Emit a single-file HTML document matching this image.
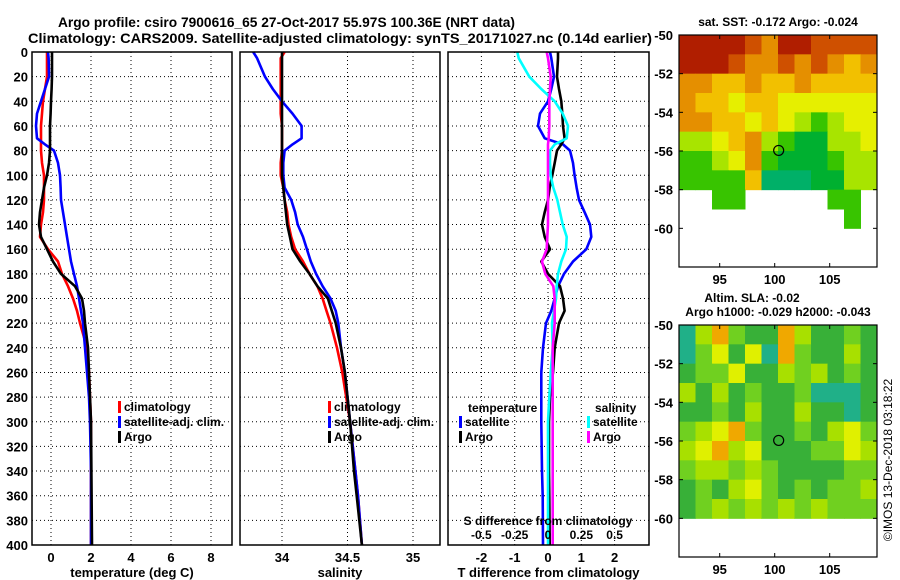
<!DOCTYPE html>
<html><head><meta charset="utf-8"><style>
html,body{margin:0;padding:0;background:#fff;}
svg{display:block;font-family:"Liberation Sans",sans-serif;font-weight:bold;}
</style></head><body>
<svg id="fig" width="900" height="580" viewBox="0 0 900 580" xmlns="http://www.w3.org/2000/svg">
<text x="58" y="27" font-size="14" textLength="457" lengthAdjust="spacingAndGlyphs">Argo profile: csiro 7900616_65 27-Oct-2017 55.97S 100.36E (NRT data)</text>
<text x="28" y="43" font-size="14" textLength="624" lengthAdjust="spacingAndGlyphs">Climatology: CARS2009. Satellite-adjusted climatology: synTS_20171027.nc (0.14d earlier)</text>
<text x="778" y="26" font-size="12" text-anchor="middle">sat. SST: -0.172 Argo: -0.024</text>
<text x="752" y="302" font-size="12" text-anchor="middle">Altim. SLA: -0.02</text>
<text x="778" y="316" font-size="12" text-anchor="middle">Argo h1000: -0.029 h2000: -0.043</text>
<text transform="translate(892,460) rotate(-90)" font-size="12" font-weight="normal" text-anchor="middle">©IMOS 13-Dec-2018 03:18:22</text>
<g id="plots"></g>
</svg>
<script>
const depths=[0,5,20,30,40,50,60,70,75,80,90,100,110,120,130,140,150,160,170,180,190,200,210,220,240,260,280,300,340,360,400];
// temperature (deg C)
const tClim=[-0.2,-0.2,-0.2,-0.3,-0.4,-0.45,-0.5,-0.5,-0.5,-0.5,-0.45,-0.35,-0.35,-0.35,-0.4,-0.5,-0.55,-0.15,0.35,0.55,0.85,1.1,1.3,1.45,1.8,1.9,1.95,2.0,2.0,2.0,2.0];
const tSat=[-0.15,-0.12,-0.1,-0.3,-0.5,-0.7,-0.75,-0.7,-0.3,0.15,0.35,0.45,0.48,0.5,0.6,0.7,0.8,0.9,1.0,1.15,1.3,1.4,1.5,1.6,1.7,1.8,1.9,1.95,2.0,2.0,2.0];
const tArgo=[0.05,0.05,0.05,0.03,0.0,-0.02,-0.05,-0.05,-0.05,-0.05,-0.1,-0.2,-0.35,-0.45,-0.55,-0.6,-0.5,-0.2,0.1,0.5,1.2,1.55,1.65,1.7,1.85,1.9,1.95,2.0,2.02,2.03,2.05];
// salinity
const sClim=[34.02,33.99,33.99,33.99,33.99,33.99,34.0,34.0,34.0,34.0,33.99,33.99,34.01,34.02,34.04,34.05,34.07,34.1,34.16,34.21,34.27,34.31,34.34,34.37,34.42,34.46,34.49,34.52,34.56,34.58,34.61];
const sSat=[33.78,33.81,33.87,33.93,34.0,34.08,34.15,34.15,34.08,34.02,34.01,34.01,34.02,34.07,34.1,34.12,34.16,34.19,34.22,34.26,34.31,34.37,34.41,34.43,34.45,34.48,34.5,34.52,34.56,34.58,34.61];
const sArgo=[34.0,34.0,34.0,34.0,34.0,34.0,34.0,34.0,34.0,34.0,34.0,34.0,34.01,34.02,34.03,34.04,34.06,34.08,34.14,34.21,34.27,34.35,34.38,34.41,34.45,34.48,34.5,34.52,34.55,34.57,34.61];
// differences from climatology
const dTSat=[0.06,0.1,0.18,0.1,0.0,-0.24,-0.3,-0.1,0.45,0.66,0.75,0.8,0.86,0.93,1.1,1.26,1.3,1.15,0.75,0.48,0.3,0.2,0.1,-0.06,-0.15,-0.2,-0.2,-0.2,-0.18,-0.16,-0.15];
const dTArgo=[0.3,0.3,0.27,0.33,0.4,0.43,0.45,0.5,0.4,0.27,0.2,0.13,0.05,0.0,-0.1,-0.18,-0.1,0.06,-0.2,0.0,0.36,0.45,0.5,0.33,0.2,0.15,0.06,0.03,0.03,0.04,0.05];
const dSArgo=[-0.01,0.0,0.02,0.015,0.01,0.01,0.01,0.005,0.0,0.0,0.0,0.0,0.0,0.0,0.0,0.0,-0.005,-0.01,-0.045,-0.02,0.04,0.05,0.05,0.05,0.035,0.035,0.035,0.035,0.035,0.035,0.035];
const dSSat=[-0.23,-0.22,-0.14,-0.05,0.05,0.11,0.15,0.14,0.05,0.015,0.015,0.02,0.04,0.07,0.09,0.11,0.14,0.135,0.1,0.075,0.065,0.06,0.045,0.03,0.035,0.02,0.01,0.0,0.0,0.0,0.0];
const depthTicks=[0,20,40,60,80,100,120,140,160,180,200,220,240,260,280,300,320,340,360,380,400];
const tTicks=[0,2,4,6,8];
const sTicks=[34,34.5,35];
const sTickLabels=["34","34.5","35"];
const dTicks=[-2,-1,0,1,2];
const dSTicks=[-0.5,-0.25,0,0.25,0.5];
const dSTickLabels=["-0.5","-0.25","0","0.25","0.5"];
// maps
const sstLatTicks=[-50,-52,-54,-56,-58,-60];
const slaLatTicks=[-50,-52,-54,-56,-58,-60];
const lonTicks=[95,100,105];
const sstPalette=["#b01e00","#cf5000","#e58f00","#f2c000","#e6ef00","#a8e400","#38c400","#00b030","#00b068"];
const sstGrid=[
[0,0,0,0,1,2,0,0,1,1,1,1],
[0,0,0,1,2,2,1,2,1,2,3,2],
[2,2,3,3,2,3,3,2,3,3,3,3],
[2,3,3,4,3,3,4,4,4,4,4,4],
[2,2,3,3,4,3,4,5,6,5,4,4],
[5,5,4,3,2,5,6,7,7,5,5,4],
[6,6,5,4,2,6,7,7,7,6,5,5],
[6,6,6,6,3,8,8,8,7,7,5,5],
[-1,-1,6,6,-1,-1,-1,-1,-1,6,6,-1],
[-1,-1,-1,-1,-1,-1,-1,-1,-1,-1,6,-1],
[-1,-1,-1,-1,-1,-1,-1,-1,-1,-1,-1,-1],
[-1,-1,-1,-1,-1,-1,-1,-1,-1,-1,-1,-1]];
const slaPalette=["#20b088","#38b038","#70d020","#a8e000","#e0f000","#f0a800"];
const slaGrid=[
[0,3,5,2,1,1,5,3,1,1,2,1],
[0,2,4,1,4,0,5,2,1,1,3,1],
[1,2,2,4,1,1,3,2,3,1,2,1],
[3,1,3,1,2,1,1,2,0,0,0,1],
[1,1,2,1,3,1,1,3,1,1,0,1],
[2,3,4,5,2,1,1,2,1,3,4,2],
[3,4,5,3,4,1,1,1,2,2,4,3],
[2,3,3,2,3,2,1,1,1,1,2,2],
[1,2,1,3,4,2,1,2,1,2,2,3],
[1,2,3,2,3,2,3,2,3,2,2,2]];
const argoLon=[100.36], argoLat=[-55.97];

const NS="http://www.w3.org/2000/svg";
const root=document.getElementById('plots');
function mk(tag,attrs,parent){const e=document.createElementNS(NS,tag);for(const k in attrs)e.setAttribute(k,attrs[k]);(parent||root).appendChild(e);return e;}
const yD=d=>52+d*(493/400);

function panel(name,x0,x1,xs,ticks,labels,title,series,showDepth){
  const g=mk('g',{});
  
  
  depthTicks.forEach(d=>{
    const l=mk('line',{x1:x0,x2:x1,y1:yD(d),y2:yD(d),stroke:'#000','stroke-width':1,'stroke-dasharray':'1,3'},g);
    
    
    if(showDepth){
      const t=mk('text',{x:x0-4,y:yD(d)+5,'font-size':13,'text-anchor':'end'},g);
      
      
      t.textContent=d;
    }
  });
  ticks.forEach((v,i)=>{
    const l=mk('line',{x1:xs(v),x2:xs(v),y1:52,y2:545,stroke:'#000','stroke-width':1,'stroke-dasharray':'1,3'},g);
    
    
    const t=mk('text',{x:xs(v),y:562,'font-size':13,'text-anchor':'middle'},g);
    
    
    t.textContent=labels[i];
  });
  const tt=mk('text',{x:(x0+x1)/2,y:577,'font-size':13,'text-anchor':'middle'},g);
  
  
  tt.textContent=title;
  series.forEach(s=>{
    const pts=s.vals.map((v,i)=>s.xs(v).toFixed(1)+','+yD(depths[i]).toFixed(1)).join(' ');
    const p=mk('polyline',{points:pts,fill:'none',stroke:s.color,'stroke-width':2.6,'stroke-linejoin':'round'},g);
    
    
  });
  const fr=mk('rect',{x:x0,y:52,width:x1-x0,height:493,fill:'none',stroke:'#000','stroke-width':1.5},g);
  
  
  return g;
}
function legend(g,x,y,items){
  items.forEach((it,i)=>{
    const r=mk('rect',{x:x,y:y+i*15-10,width:3,height:12,fill:it[1]},g);
    
    
    const t=mk('text',{x:x+6,y:y+i*15,'font-size':12},g);
    
    
    t.textContent=it[0];
  });
}
const xT=v=>51+20*v, xS=v=>282+131*(v-34), xDT=v=>548+33.3*v, xDS=v=>548+133.3*v;
const g1=panel('temperature-panel',32,232,xT,tTicks,tTicks.map(String),'temperature (deg C)',[
 {name:'temp-climatology-line',vals:tClim,xs:xT,color:'#ff0000'},
 {name:'temp-satellite-line',vals:tSat,xs:xT,color:'#0000ff'},
 {name:'temp-argo-line',vals:tArgo,xs:xT,color:'#000'}],true);
legend(g1,118,411,[['climatology','#ff0000'],['satellite-adj. clim.','#0000ff'],['Argo','#000']]);
const g2=panel('salinity-panel',240,440,xS,sTicks,sTickLabels,'salinity',[
 {name:'sal-climatology-line',vals:sClim,xs:xS,color:'#ff0000'},
 {name:'sal-satellite-line',vals:sSat,xs:xS,color:'#0000ff'},
 {name:'sal-argo-line',vals:sArgo,xs:xS,color:'#000'}],false);
legend(g2,328,411,[['climatology','#ff0000'],['satellite-adj. clim.','#0000ff'],['Argo','#000']]);
const g3=panel('difference-panel',448,649,xDT,dTicks,dTicks.map(String),'T difference from climatology',[
 {name:'tdiff-satellite-line',vals:dTSat,xs:xDT,color:'#0000ff'},
 {name:'tdiff-argo-line',vals:dTArgo,xs:xDT,color:'#000'},
 {name:'sdiff-satellite-line',vals:dSSat,xs:xDS,color:'#00ffff'},
 {name:'sdiff-argo-line',vals:dSArgo,xs:xDS,color:'#ff00ff'}],false);
{const t=mk('text',{x:468,y:412,'font-size':12},g3);t.textContent='temperature';}
{const t=mk('text',{x:595,y:412,'font-size':12},g3);t.textContent='salinity';}
legend(g3,459,426,[['satellite','#0000ff'],['Argo','#000']]);
legend(g3,587,426,[['satellite','#00ffff'],['Argo','#ff00ff']]);
{const t=mk('text',{x:548,y:525,'font-size':12,'text-anchor':'middle'},g3);t.textContent='S difference from climatology';}
dSTicks.forEach((v,i)=>{const t=mk('text',{x:xDS(v),y:539,'font-size':12,'text-anchor':'middle'},g3);
 
 
 t.textContent=dSTickLabels[i];});

function map(name,y0,y1,latMin,grid,palette,latTicks){
  const g=mk('g',{});
  
  
  const x0=679,x1=877;
  const yL=lat=>y0+(-50-lat)*(y1-y0)/(-50-latMin);
  const xL=lon=>679+(lon-91.3)*11;
  grid.forEach((row,r)=>row.forEach((v,c)=>{
    if(v<0)return;
    const lon0=91.3+c*1.5;
    const e=mk('rect',{x:xL(lon0),y:yL(-50-r),width:xL(lon0+1.5)-xL(lon0)+0.5,height:yL(-51-r)-yL(-50-r)+0.5,fill:palette[v]},g);
    
    
  }));
  latTicks.forEach(l=>{
    const t=mk('text',{x:673,y:yL(l)+5,'font-size':13,'text-anchor':'end'},g);
    
    
    t.textContent=l;
    mk('line',{x1:x0,x2:x0+4,y1:yL(l),y2:yL(l),stroke:'#000'},g);
    mk('line',{x1:x1-4,x2:x1,y1:yL(l),y2:yL(l),stroke:'#000'},g);
  });
  lonTicks.forEach(l=>{
    const t=mk('text',{x:xL(l),y:y1+17,'font-size':13,'text-anchor':'middle'},g);
    
    
    t.textContent=l;
    mk('line',{x1:xL(l),x2:xL(l),y1:y1-4,y2:y1,stroke:'#000'},g);
    mk('line',{x1:xL(l),x2:xL(l),y1:y0,y2:y0+4,stroke:'#000'},g);
  });
  const c=mk('circle',{cx:xL(argoLon[0]),cy:yL(argoLat[0]),r:5,fill:'none',stroke:'#000','stroke-width':1.2},g);
  
  
  const fr=mk('rect',{x:x0,y:y0,width:x1-x0,height:y1-y0,fill:'none',stroke:'#000','stroke-width':1.2},g);
  
  
}
map('sst-map',35,267,-62,sstGrid,sstPalette,sstLatTicks);
map('sla-map',325,557,-62,slaGrid,slaPalette,slaLatTicks);
</script>
</body></html>
